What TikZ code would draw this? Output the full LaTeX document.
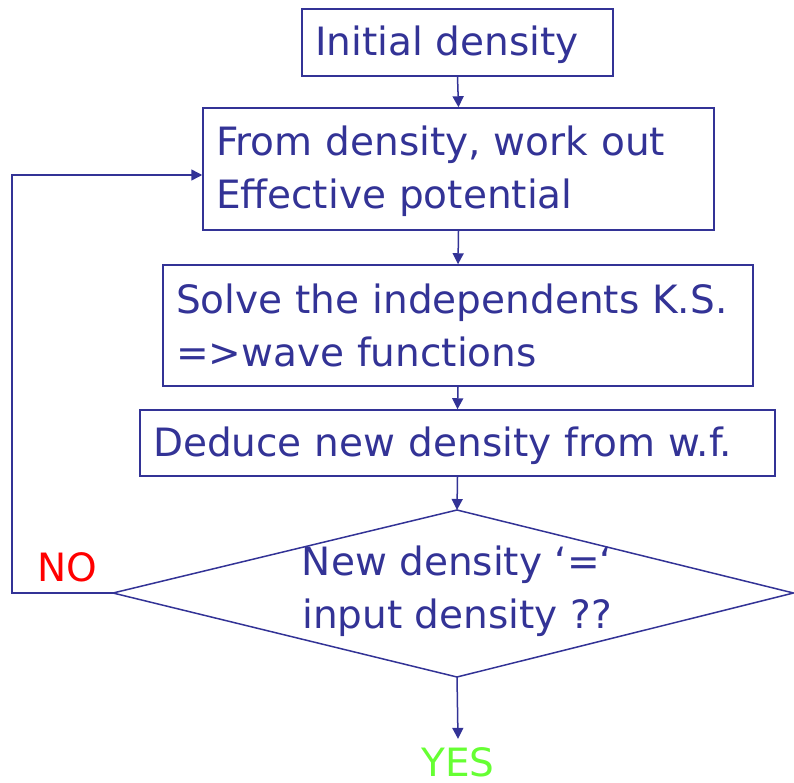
\documentclass[tikz,border=0pt]{standalone}
\usepackage{fontspec}
\setmainfont{DejaVu Sans}
\usetikzlibrary{arrows.meta}
\definecolor{navy}{RGB}{51,51,150}
\definecolor{nored}{RGB}{255,0,0}
\definecolor{yesgreen}{RGB}{102,255,51}
\begin{document}
\begin{tikzpicture}[x=1pt,y=-1pt,
  bigfont/.style={font=\fontsize{39}{53}\selectfont},
  box/.style={draw=navy, text=navy, line width=1.5pt, bigfont, align=left,
    inner xsep=13pt, inner ysep=0pt},
  arr/.style={draw=navy, line width=1.5pt, -{Triangle[length=11pt,width=11pt]}},
  edge/.style={draw=navy, line width=1.5pt}]
\useasboundingbox (0,0) rectangle (794,782);
\node[box, minimum width=311pt, minimum height=67pt, text width=285pt, text depth=3pt] (b1) at (457.5,42.5) {Initial density};
\node[box, minimum width=511pt, minimum height=122pt, text width=485pt, text depth=56pt] (b2) at (458.5,169) {From density, work out\\Effective potential};
\node[box, minimum width=590pt, minimum height=121pt, text width=564pt] (b3) at (458,325.5) {Solve the independents K.S.\\=>wave functions};
\node[box, minimum width=635pt, minimum height=66pt, text width=609pt, text depth=3pt] (b4) at (457.5,443) {Deduce new density from w.f.};
\coordinate (dt) at (457,510);
\coordinate (dl) at (113,593);
\coordinate (dr) at (793.5,593);
\coordinate (db) at (457,677);
\draw[edge] (dt) -- (dr) -- (db) -- (dl) -- cycle;
\node[text=navy, bigfont, align=center, inner sep=0pt] (dtext) at (457,591) {New density ‘=‘\\input density ??};
\node[text=nored, bigfont, inner sep=0pt] (no) at (67,567) {NO};
\node[text=yesgreen, bigfont, inner xsep=0pt, inner ysep=8pt, anchor=base] (yes) at (458,776) {YES};
\coordinate (loopcorner) at (12,593);
\draw[arr] (b1.south) -- (b2.north);
\draw[arr] (b2.south) -- (b3.north);
\draw[arr] (b3.south) -- (b4.north);
\draw[arr] (b4.south) -- (dt);
\draw[arr] (db) -- (yes.north);
\draw[arr] (dl) -- (loopcorner) |- ([yshift=-6pt]b2.west);
\end{tikzpicture}
\end{document}
